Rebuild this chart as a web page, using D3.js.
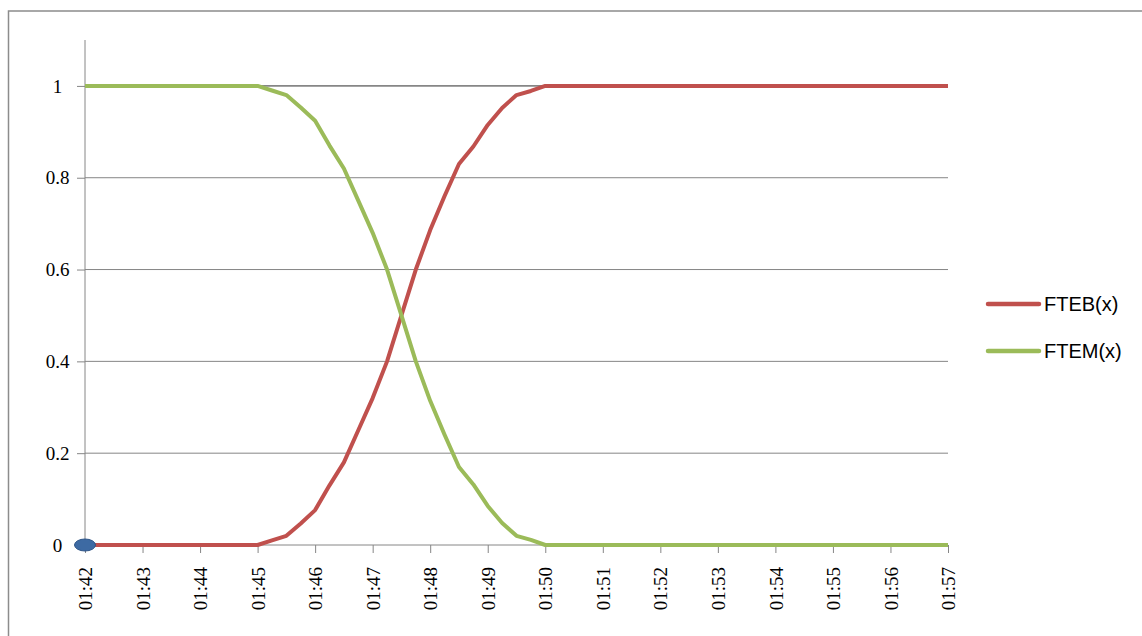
<!DOCTYPE html>
<html>
<head>
<meta charset="utf-8">
<script src="https://cdn.jsdelivr.net/npm/d3@7"></script>
<style>
  body { margin: 0; background: #fff; }
  svg { display: block; }
</style>
</head>
<body>
<div id="chart"></div>
<script>
// times every 15 seconds
var times = ["01:42:00", "01:45:00", "01:45:15", "01:45:30", "01:45:45", "01:46:00", "01:46:15",
  "01:46:30", "01:46:45", "01:47:00", "01:47:15", "01:47:30", "01:47:45", "01:48:00",
  "01:48:15", "01:48:30", "01:48:45", "01:49:00", "01:49:15", "01:49:30", "01:49:45",
  "01:50:00", "01:57:00"];
var fteb = [0, 0, 0.01, 0.02, 0.047, 0.076, 0.13, 0.18, 0.25, 0.32, 0.40, 0.50, 0.60, 0.686,
  0.76, 0.83, 0.868, 0.915, 0.952, 0.98, 0.989, 1, 1];
var ftem = [1, 1, 0.99, 0.98, 0.953, 0.924, 0.87, 0.82, 0.75, 0.68, 0.60, 0.50, 0.40, 0.314,
  0.24, 0.17, 0.132, 0.085, 0.048, 0.02, 0.011, 0, 0];
var yTicks = [0, 0.2, 0.4, 0.6, 0.8, 1];
var markerTime = "01:42:00";
var markerValue = 0;

var parseT = d3.timeParse("%H:%M:%S");
var fmt = d3.timeFormat("%H:%M");

var svg = d3.select("#chart").append("svg")
  .attr("width", 1142)
  .attr("height", 636);

// outer frame (only top and left edges show)
svg.append("path")
  .attr("d", "M8.5,636 L8.5,11 L1142,11")
  .attr("fill", "none")
  .attr("stroke", "#8c8c8c")
  .attr("stroke-width", 1.5);

var xScale = d3.scaleTime()
  .domain([parseT("01:42:00"), parseT("01:57:00")])
  .range([85, 948]);
var yScale = d3.scaleLinear().domain([0, 1.1]).range([545, 40]);

// gridlines
svg.append("g").selectAll("line")
  .data(yTicks.filter(function(d) { return d > 0; }))
  .enter().append("line")
  .attr("x1", 85).attr("x2", 948)
  .attr("y1", function(d) { return yScale(d); })
  .attr("y2", function(d) { return yScale(d); })
  .attr("stroke", "#868686")
  .attr("stroke-width", function(d) { return d == 1 ? 1.6 : 1; });

// y axis
var yAxis = d3.axisLeft(yScale).tickValues(yTicks).tickSize(8).tickFormat(d3.format("~g"));
var yG = svg.append("g").attr("transform", "translate(85,0)").call(yAxis);
yG.select(".domain").attr("stroke", "#868686").attr("d", "M0," + yScale(1.1) + "V" + yScale(0));
yG.selectAll("line").attr("stroke", "#868686");
yG.selectAll("text")
  .attr("x", -27.5)
  .attr("text-anchor", "middle")
  .style("font-family", "'Liberation Serif', 'Times New Roman', serif")
  .style("font-size", "19px")
  .style("fill", "#000");

// x axis
var xAxis = d3.axisBottom(xScale)
  .ticks(d3.timeMinute.every(1))
  .tickSize(8)
  .tickFormat(fmt);
var xG = svg.append("g").attr("transform", "translate(0,545)").call(xAxis);
xG.select(".domain").attr("stroke", "#868686").attr("d", "M85,0H948");
xG.selectAll("line").attr("stroke", "#868686");
xG.selectAll("text")
  .attr("transform", "rotate(-90)")
  .attr("x", -22)
  .attr("y", 0)
  .attr("dy", "0.35em")
  .attr("text-anchor", "end")
  .style("font-family", "'Liberation Serif', 'Times New Roman', serif")
  .style("font-size", "19px")
  .style("fill", "#000");

function createLine(values, color) {
  var data = times.map(function(t, i) { return { t: parseT(t), v: values[i] }; });
  var line = d3.line()
    .x(function(d) { return xScale(d.t); })
    .y(function(d) { return yScale(d.v); });
  svg.append("path")
    .attr("d", line(data))
    .attr("fill", "none")
    .attr("stroke", color)
    .attr("stroke-width", 4)
    .attr("stroke-linejoin", "round");
}

createLine(fteb, "#c0504d");
createLine(ftem, "#9bbb59");

// blue marker at the origin
svg.append("ellipse")
  .attr("cx", xScale(parseT(markerTime)))
  .attr("cy", yScale(markerValue))
  .attr("rx", 10.5)
  .attr("ry", 6)
  .attr("fill", "#3d6aa3")
  .attr("stroke", "#2e5588")
  .attr("stroke-width", 1);

// legend
var legend = [{ name: "FTEB(x)", color: "#c0504d" }, { name: "FTEM(x)", color: "#9bbb59" }];
var lg = svg.selectAll("g.legend").data(legend).enter().append("g")
  .attr("class", "legend")
  .attr("transform", function(d, i) { return "translate(0," + (304 + i * 47) + ")"; });
lg.append("line")
  .attr("x1", 988).attr("x2", 1039)
  .attr("stroke", function(d) { return d.color; })
  .attr("stroke-width", 4.5)
  .attr("stroke-linecap", "round");
lg.append("text")
  .attr("x", 1044)
  .attr("dy", "0.36em")
  .style("font-family", "'Liberation Sans', Arial, sans-serif")
  .style("font-size", "20px")
  .style("fill", "#000")
  .text(function(d) { return d.name; });
</script>
</body>
</html>
